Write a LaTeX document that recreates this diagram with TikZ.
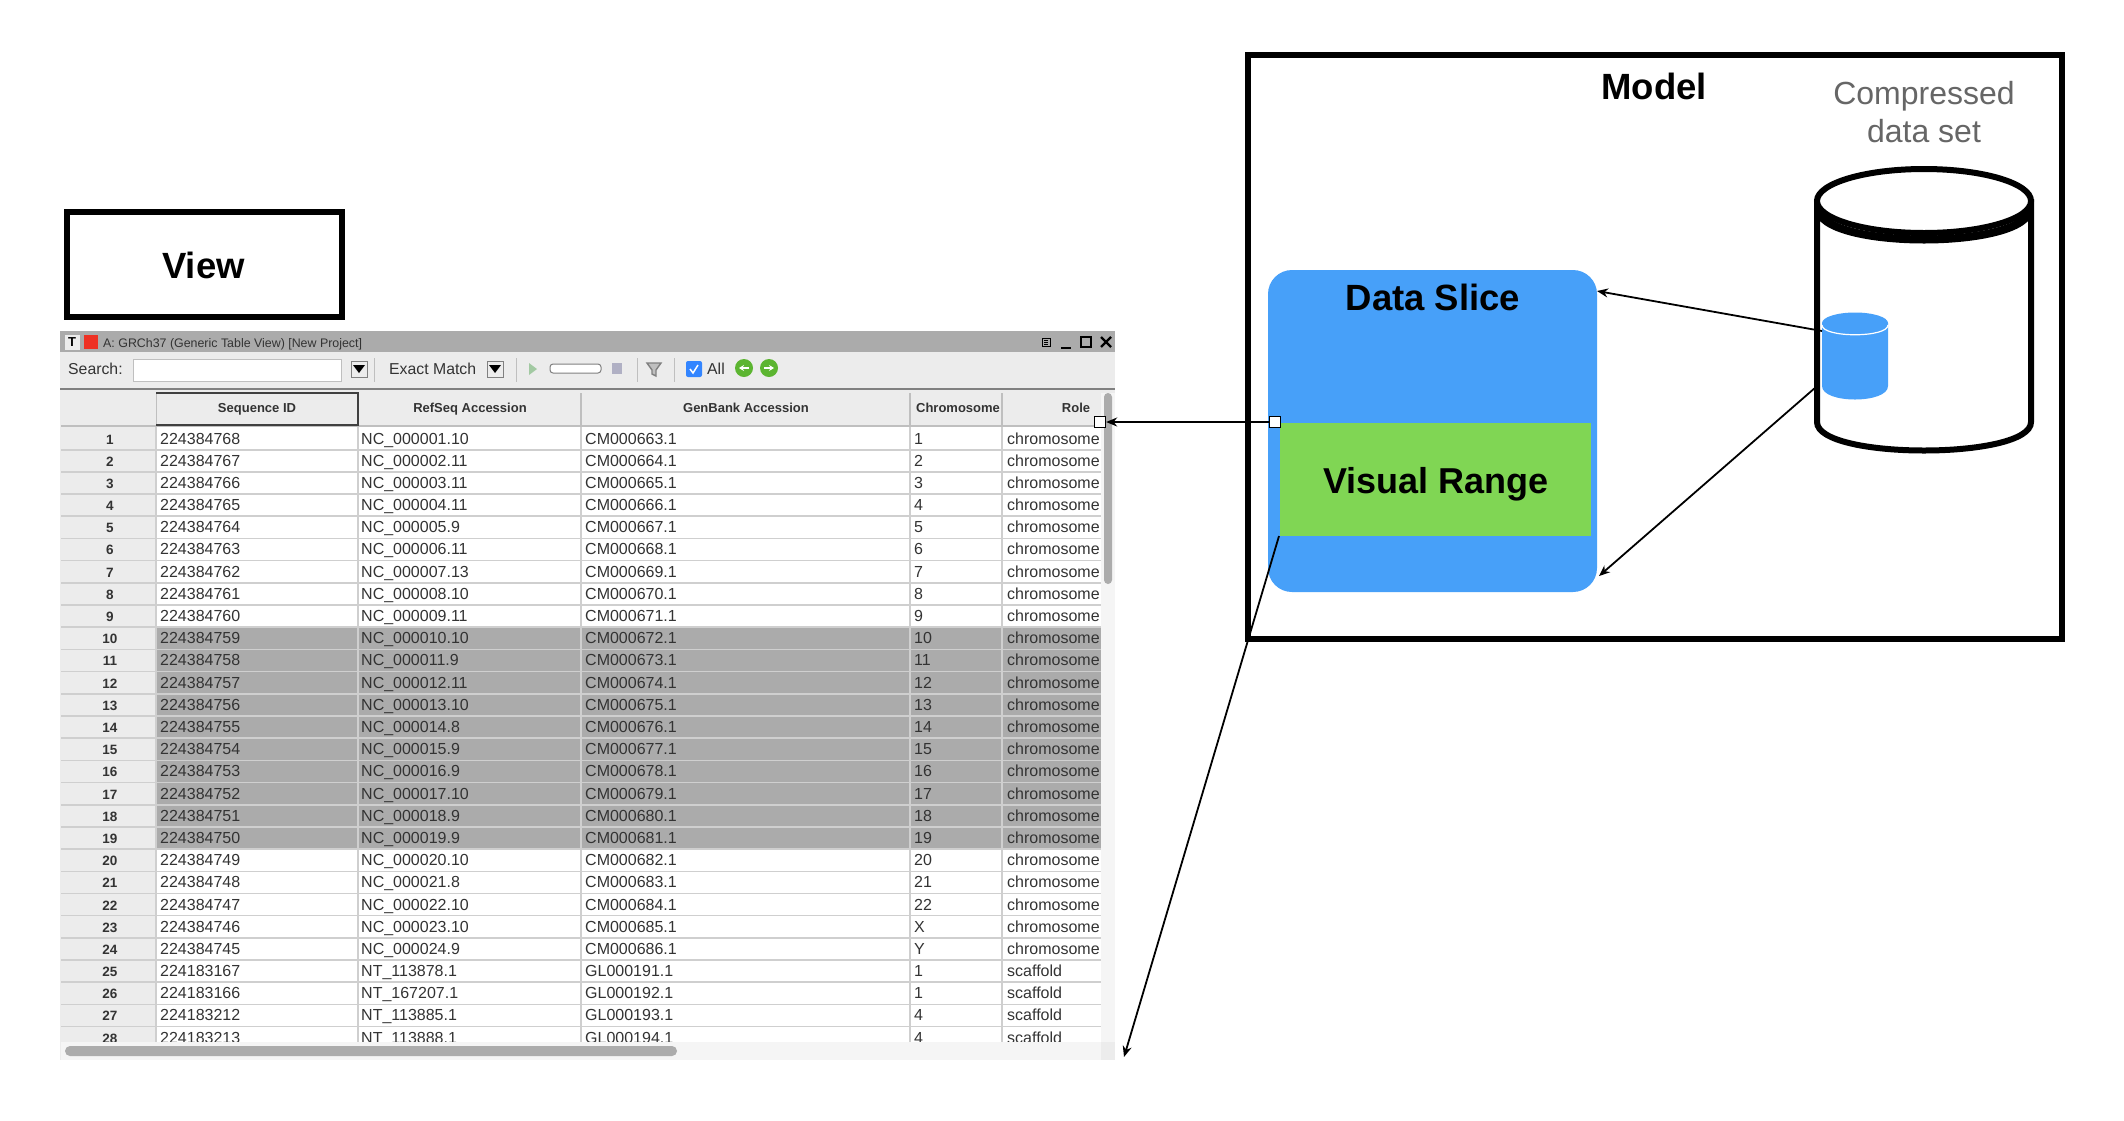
\documentclass[tikz,border=0pt]{standalone}
\usepackage{fontspec}
\setmainfont{Liberation Sans}
\usetikzlibrary{shapes.geometric,arrows.meta}
\definecolor{sliceblue}{HTML}{47A0F9}
\definecolor{rangegreen}{HTML}{80D654}
\definecolor{titlegray}{HTML}{ABABAB}
\definecolor{barbg}{HTML}{ECECEC}
\definecolor{rowline}{HTML}{CFCFCF}
\definecolor{hilite}{HTML}{ABABAB}
\definecolor{celltext}{HTML}{333333}
\definecolor{winred}{HTML}{EE3124}
\definecolor{navgreen}{HTML}{5CB531}
\newcommand{\fs}[1]{\fontsize{#1}{#1}\selectfont}
\tikzset{
  x=1pt,y=-1pt,
  framebox/.style={draw=black,line width=6pt,fill=none},
  bigtext/.style={font=\fs{36.5}\bfseries,text=black,inner sep=0pt},
  cell/.style={anchor=base west,inner sep=0pt,font=\fs{16},text=celltext},
  rowno/.style={anchor=base,inner sep=0pt,font=\fs{13.5}\bfseries,text=celltext},
  headtxt/.style={anchor=base,inner sep=0pt,font=\fs{13}\bfseries,text=celltext},
  tooltxt/.style={anchor=base west,inner sep=0pt,font=\fs{15.8},text=celltext},
  conn/.style={draw=black,line width=1.8pt,-{Stealth[length=11pt,width=9pt]}},
  handle/.style={draw=black,fill=white,line width=1.3pt,minimum size=11pt,inner sep=0pt},
  dropbtn/.style={draw=gray,fill=barbg,line width=1pt,minimum size=16pt,inner sep=0pt},
}
\begin{document}
\begin{tikzpicture}
\useasboundingbox (0,0) rectangle (2124,1120);
\fill[white] (0,0) rectangle (2124,1120);
% ===== window
\fill[barbg] (60,331) rectangle (1115,1060);
\fill[white] (61,393) rectangle (1101,1042);
\fill[titlegray] (60,331) rectangle (1115,352);
\fill[barbg] (60,352) rectangle (1115,388);
\draw[gray,line width=2pt] (60,389) -- (1115,389);
% title bar
\node[fill=barbg,minimum size=15pt,inner sep=0pt,font=\fs{13}\bfseries\rmfamily] (ticon) at (72,342) {T};
\fill[winred] (84,335) rectangle (98,349);
\node[anchor=base west,inner sep=0pt,font=\fs{12.4},text=celltext] (wintitle) at (103,347) {A: GRCh37 (Generic Table View) [New Project]};
\draw[black,line width=1pt] (1042,338) rectangle (1050,346);
\draw[black,line width=.6pt] (1044,340) -- (1048,340) (1044,342) -- (1048,342) (1044,344) -- (1048,344);
\draw[black,line width=2pt] (1061,348) -- (1071,348);
\draw[black,line width=1.6pt] (1081,337) rectangle (1091,347);
\draw[black,line width=2.4pt] (1101,337) -- (1111,347) (1111,337) -- (1101,347);
% toolbar
\node[tooltxt] (searchlbl) at (68,374) {Search:};
\fill[white] (133,359) rectangle (341,381);
\draw[lightgray,line width=.8pt] (133,359) rectangle (341,381);
\node[dropbtn] (drop1) at (359,369) {};
\fill[black] (353,365) -- (365,365) -- (359,373) -- cycle;
\draw[lightgray] (374,358) -- (374,382);
\node[tooltxt] (exactlbl) at (389,374) {Exact Match};
\node[dropbtn] (drop2) at (495,369) {};
\fill[black] (489,365) -- (501,365) -- (495,373) -- cycle;
\draw[lightgray] (516,358) -- (516,382);
\fill[green!15!lightgray] (529,363) -- (537,369) -- (529,375) -- cycle;
\draw[gray,fill=white,line width=1pt,rounded corners=3pt] (550,364) rectangle (601,373);
\fill[blue!8!lightgray] (612,363) rectangle (622,374);
\draw[lightgray] (637,358) -- (637,382);
\draw[gray,line width=1.4pt,fill=lightgray] (647,363) -- (661,363) -- (656,370) -- (656,376) -- (652,374) -- (652,370) -- cycle;
\draw[lightgray] (674,358) -- (674,382);
\fill[blue!60!cyan!80!white,rounded corners=2pt] (686,361) rectangle (702,377);
\draw[white,line width=1.5pt] (690,369) -- (693,373) -- (698,365);
\node[tooltxt] (alllbl) at (707,374) {All};
\fill[navgreen] (744,368) circle (9);
\draw[white,line width=2pt,-{Stealth[length=5pt,width=6pt]}] (749,368) -- (739,368);
\fill[navgreen] (769,368) circle (9);
\draw[white,line width=2pt,-{Stealth[length=5pt,width=6pt]}] (764,368) -- (774,368);
% header
\fill[barbg] (61,393) rectangle (1101,425);
\foreach \hx in {581,910,1002}{\draw[lightgray,line width=1.2pt] (\hx,393) -- (\hx,425);}
\draw[lightgray,line width=1.5pt] (61,426) -- (1101,426);
\draw[lightgray,line width=1pt] (156,393) -- (156,425);
\draw[black!75,line width=1.1pt] (156,393) -- (358,393) -- (358,425) -- (156,425);
\node[headtxt] (h1) at (257,412) {Sequence ID};
\node[headtxt] (h2) at (470,412) {RefSeq Accession};
\node[headtxt] (h3) at (746,412) {GenBank Accession};
\node[headtxt] (h4) at (958,412) {Chromosome};
\node[headtxt] (h5) at (1076,412) {Role};
% body clipped to viewport
\begin{scope}
\clip (61,427) rectangle (1101,1041);
\fill[barbg] (61,427) rectangle (156,1042);
\fill[hilite] (156,{427.5+22.19*9}) rectangle (1101,{427.5+22.19*19});
\foreach \hx in {156,358,581,910,1002}{\draw[rowline,line width=1.2pt] (\hx,427) -- (\hx,1042);}
\foreach \n in {1,...,28}{
  \draw[rowline,line width=1.6pt] (61,{427.5+22.19*\n}) -- (1101,{427.5+22.19*\n});
}
\foreach \n/\sid/\rid/\gid/\cid/\rl in {
1/224384768/NC\_000001.10/CM000663.1/1/chromosome,
2/224384767/NC\_000002.11/CM000664.1/2/chromosome,
3/224384766/NC\_000003.11/CM000665.1/3/chromosome,
4/224384765/NC\_000004.11/CM000666.1/4/chromosome,
5/224384764/NC\_000005.9/CM000667.1/5/chromosome,
6/224384763/NC\_000006.11/CM000668.1/6/chromosome,
7/224384762/NC\_000007.13/CM000669.1/7/chromosome,
8/224384761/NC\_000008.10/CM000670.1/8/chromosome,
9/224384760/NC\_000009.11/CM000671.1/9/chromosome,
10/224384759/NC\_000010.10/CM000672.1/10/chromosome,
11/224384758/NC\_000011.9/CM000673.1/11/chromosome,
12/224384757/NC\_000012.11/CM000674.1/12/chromosome,
13/224384756/NC\_000013.10/CM000675.1/13/chromosome,
14/224384755/NC\_000014.8/CM000676.1/14/chromosome,
15/224384754/NC\_000015.9/CM000677.1/15/chromosome,
16/224384753/NC\_000016.9/CM000678.1/16/chromosome,
17/224384752/NC\_000017.10/CM000679.1/17/chromosome,
18/224384751/NC\_000018.9/CM000680.1/18/chromosome,
19/224384750/NC\_000019.9/CM000681.1/19/chromosome,
20/224384749/NC\_000020.10/CM000682.1/20/chromosome,
21/224384748/NC\_000021.8/CM000683.1/21/chromosome,
22/224384747/NC\_000022.10/CM000684.1/22/chromosome,
23/224384746/NC\_000023.10/CM000685.1/X/chromosome,
24/224384745/NC\_000024.9/CM000686.1/Y/chromosome,
25/224183167/NT\_113878.1/GL000191.1/1/scaffold,
26/224183166/NT\_167207.1/GL000192.1/1/scaffold,
27/224183212/NT\_113885.1/GL000193.1/4/scaffold,
28/224183213/NT\_113888.1/GL000194.1/4/scaffold}{
  \pgfmathsetmacro{\by}{444+22.19*(\n-1)}
  \node[rowno] (rn\n) at (110,\by) {\n};
  \node[cell] (cs\n) at (160,\by) {\sid};
  \node[cell] (cr\n) at (361,\by) {\rid};
  \node[cell] (cg\n) at (585,\by) {\gid};
  \node[cell] (cc\n) at (914,\by) {\cid};
  \node[cell] (cl\n) at (1007,\by) {\rl};
}
\end{scope}
% scrollbars
\fill[black!4] (1101,393) rectangle (1115,1042);
\fill[black!4] (61,1042) rectangle (1101,1060);
\fill[lightgray!90!black,rounded corners=4pt] (1104,393) rectangle (1112,584);
\fill[lightgray!90!black,rounded corners=5pt] (65,1046) rectangle (677,1056);
% ===== View box
\node[framebox,minimum width=275pt,minimum height=105pt,inner sep=0pt] (viewbox) at (204.5,264.5) {};
\node[bigtext] (viewlbl) at (203.5,265) {View};
% ===== Model
\node[framebox,minimum width=814pt,minimum height=584pt,inner sep=0pt] (modelbox) at (1655,347) {};
\node[bigtext] (modellbl) at (1654,86) {Model};
\node[anchor=base,inner sep=0pt,font=\fs{32},text=black!60] (comp1) at (1924,104) {Compressed};
\node[anchor=base,inner sep=0pt,font=\fs{32},text=black!60] (comp2) at (1924,142) {data set};
% data slice
\node[fill=sliceblue,rounded corners=24pt,minimum width=329pt,minimum height=322pt,inner sep=0pt] (slice) at (1432.5,431) {};
\node[bigtext] (slicelbl) at (1433,297) {Data Slice};
\node[fill=rangegreen,minimum width=311pt,minimum height=113pt,inner sep=0pt] (range) at (1435.5,479.5) {};
\node[bigtext,font=\fs{36}\bfseries] (rangelbl) at (1436,484) {Visual Range};
% big cylinder
\draw[black,line width=6pt,fill=white] (1817,202) -- (1817,422)
  .. controls (1817,460) and (2031,460) .. (2031,422) -- (2031,202) -- cycle;
\draw[black,line width=8pt] (1818,208) .. controls (1818,250) and (2030,250) .. (2030,208);
\node[ellipse,draw=black,fill=white,line width=6pt,minimum width=214pt,minimum height=64pt,inner sep=0pt] (bigtop) at (1924,201) {};
% small cylinder
\fill[sliceblue] (1822,323) -- (1822,386) .. controls (1822,404) and (1888,404) .. (1888,386) -- (1888,323) -- cycle;
\node[ellipse,fill=sliceblue,minimum width=66pt,minimum height=21pt,inner sep=0pt] (smalltop) at (1855,323) {};
\draw[white,line width=1.2pt] (1822,325) .. controls (1822,338) and (1888,338) .. (1888,325);
% connectors
\coordinate (cylA) at (1822,331);
\coordinate (sliceA) at (1597,291);
\coordinate (cylB) at (1816,387);
\coordinate (sliceB) at (1599,576);
\coordinate (rangeC) at (1279,536);
\coordinate (tableEnd) at (1124,1057);
\node[handle] (hRange) at (1275,422) {};
\node[handle] (hRole) at (1100,422) {};
\draw[conn] (cylA) -- (sliceA);
\draw[conn] (cylB) -- (sliceB);
\draw[conn] (hRange) -- (hRole);
\draw[conn] (rangeC) -- (tableEnd);
\end{tikzpicture}
\end{document}
